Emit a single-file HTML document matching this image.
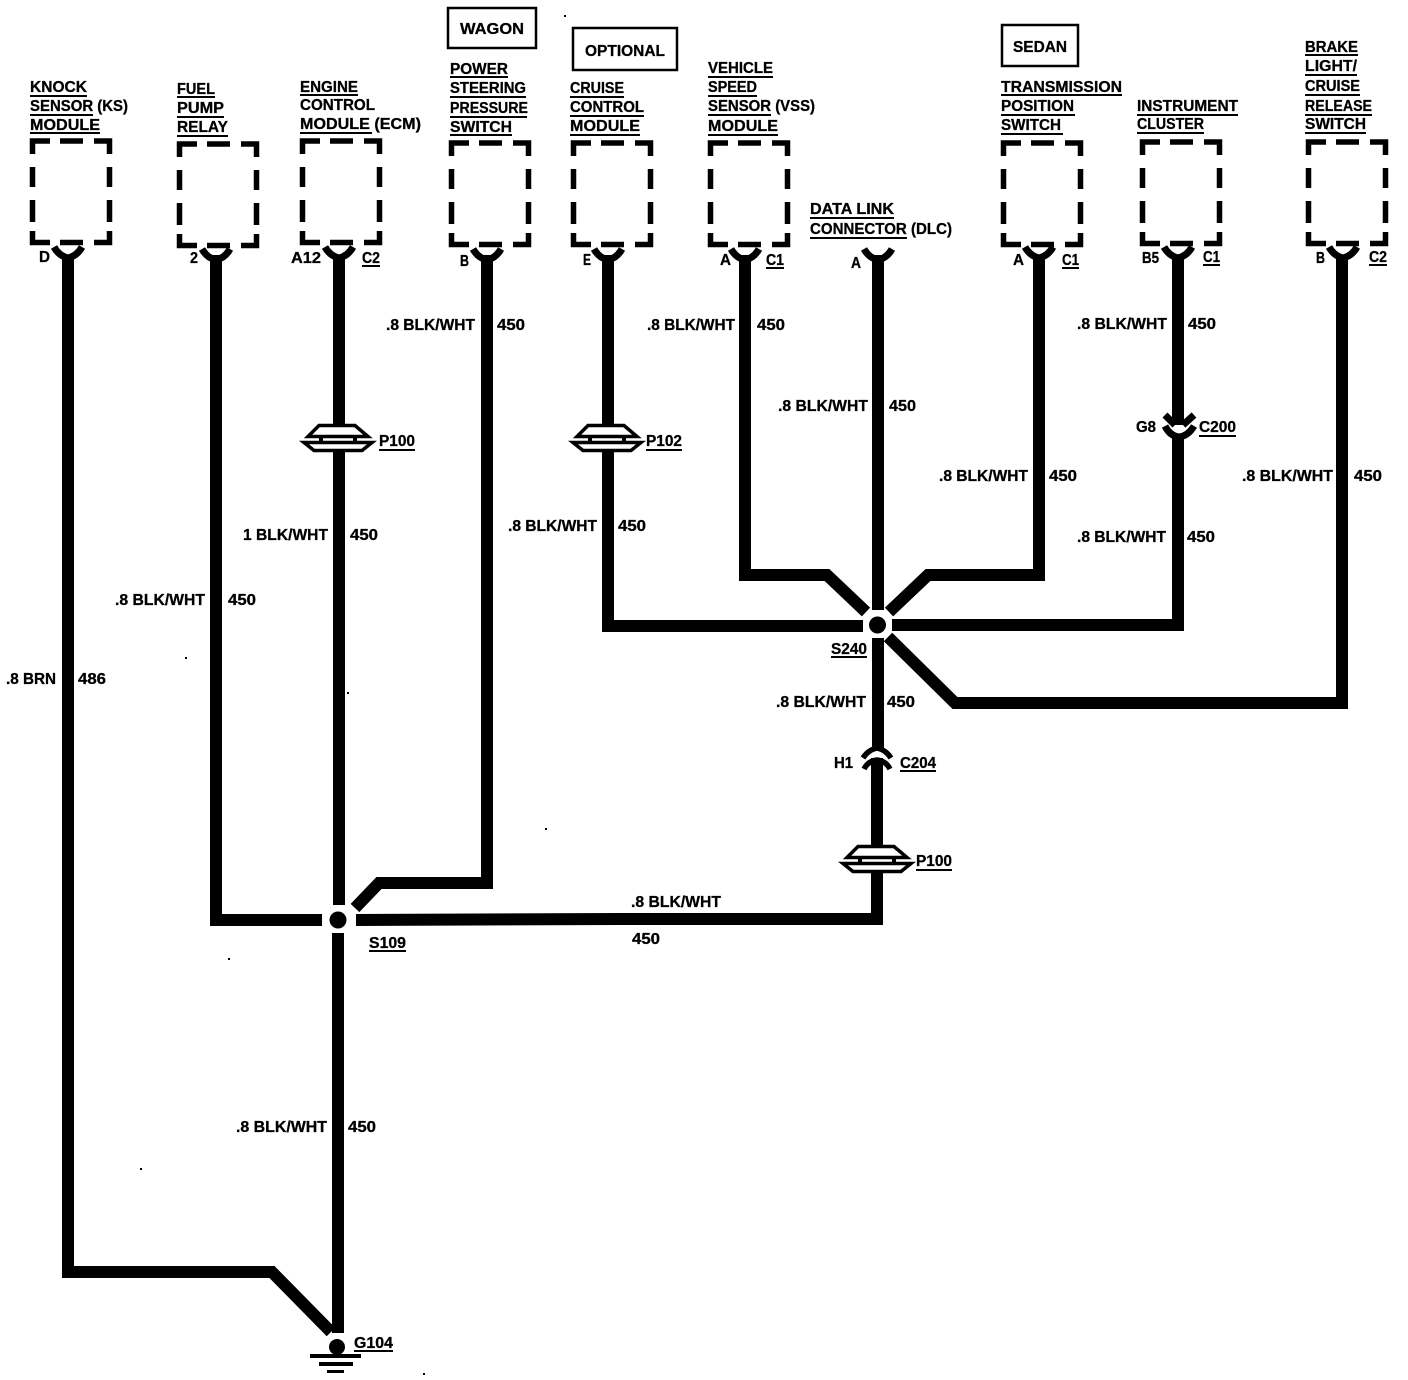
<!DOCTYPE html>
<html><head><meta charset="utf-8"><title>Wiring diagram</title>
<style>
html,body{margin:0;padding:0;background:#fff;width:1408px;height:1380px;overflow:hidden}
svg{display:block}
text{font-family:"Liberation Sans",sans-serif;font-weight:bold;font-size:16px;fill:#000;stroke:#000;stroke-width:.3px}
.w{fill:none;stroke:#000;stroke-width:12;stroke-linejoin:miter;stroke-linecap:butt}
.y{fill:none;stroke:#000;stroke-width:7}
.b{fill:none;stroke:#000;stroke-width:5.5}
.u{fill:none;stroke:#000;stroke-width:2}
.p{fill:#fff;stroke:#000;stroke-width:3.5}
</style></head><body>
<svg xmlns="http://www.w3.org/2000/svg" width="1408" height="1380" viewBox="0 0 1408 1380">
<defs>
<g id="box"><path class="b" d="M2.5,15V2H20M30,2H53M64,2H79.5V15M2.5,28V48M2.5,61V83M79.5,28V48M79.5,61V83M2.5,92V103.5H20M30,103.5H53M64,103.5H79.5V92"/></g>
<path id="yc" class="y" d="M-14,-3Q-9,6 0,8Q9,6 14,-3"/>
<g id="pl"><rect x="-8" y="11" width="16" height="8" fill="#fff"/><path d="M-19,13h4v5h-4zM15,13h4v5h-4z"/><path class="p" d="M-19,1.5H17L30,12.5H-30Z"/><path class="p" d="M-34,18.5H34L24,26.5H-24Z"/></g>
</defs>
<rect width="1408" height="1380" fill="#fff"/>

<!-- boxes -->
<use href="#box" x="30" y="139"/>
<use href="#box" x="177" y="142"/>
<use href="#box" x="300" y="139"/>
<use href="#box" x="449" y="141"/>
<use href="#box" x="571" y="141"/>
<use href="#box" x="708" y="141"/>
<use href="#box" x="1001" y="141"/>
<use href="#box" x="1140" y="140"/>
<use href="#box" x="1306" y="140"/>

<!-- tag boxes -->
<rect x="448" y="8" width="88" height="40" fill="none" stroke="#000" stroke-width="2.5"/>
<rect x="573" y="28" width="104" height="42" fill="none" stroke="#000" stroke-width="2.5"/>
<rect x="1002" y="25" width="76" height="41" fill="none" stroke="#000" stroke-width="2.5"/>

<!-- wires -->
<path class="w" d="M68,255V1272H272L331,1332"/>
<path class="w" d="M339,255V905"/>
<path class="w" d="M338,933V1333"/>
<path class="w" d="M216,255V920H322"/>
<path class="w" d="M487,255V883H379L355,908"/>
<path class="w" d="M356,920L620,919H877V872"/>
<path class="w" d="M608,255V626H863"/>
<path class="w" d="M745,255V575H827L866,612"/>
<path class="w" d="M1039,255V575H928L889,612"/>
<path class="w" d="M1178,255V625H892"/>
<path class="w" d="M1342,255V703H955L888,637"/>
<path class="w" d="M878,255V610"/>
<path class="w" d="M878,638V748"/>
<path class="w" d="M877,757V850"/>
<rect x="1170" y="425" width="18" height="9" fill="#fff"/>

<!-- Y connectors -->
<use href="#yc" x="68" y="250"/>
<use href="#yc" x="216" y="252"/>
<use href="#yc" x="339" y="250"/>
<use href="#yc" x="487" y="252"/>
<use href="#yc" x="608" y="252"/>
<use href="#yc" x="745" y="252"/>
<use href="#yc" x="878" y="252"/>
<use href="#yc" x="1039" y="250"/>
<use href="#yc" x="1178" y="250"/>
<use href="#yc" x="1343" y="250"/>

<!-- C200 -->
<path class="y" d="M1165,415L1175,425M1194,415L1183,425"/>
<path class="y" d="M1165,426Q1170,436 1179,437Q1188,436 1194,426"/>
<!-- C204 -->
<rect x="860" y="751" width="34" height="7" fill="#fff"/>
<path class="y" style="stroke-width:5.5" d="M863,758Q868,750 877,748Q886,750 891,758"/>
<path class="y" style="stroke-width:5.5" d="M864,769Q868,761 877,760Q886,761 890,769"/>

<!-- pass-throughs -->
<use href="#pl" x="338" y="424"/>
<use href="#pl" x="607" y="424"/>
<use href="#pl" x="877" y="845"/>

<!-- splices -->
<circle cx="877.5" cy="625" r="8.5"/>
<circle cx="338" cy="920" r="8.5"/>
<!-- ground -->
<circle cx="337" cy="1347" r="8"/>
<rect x="310" y="1354" width="51" height="4"/>
<rect x="319" y="1362" width="34" height="4"/>
<rect x="327" y="1370" width="17" height="3"/>

<!-- underlines -->
<path class="u" d="M30,96H87M30,115H93M30,133H100
M177,97H215M177,117H224M177,136H228
M300,95H358M300,133H372
M450,77H508M450,97H526M450,117H527M450,135H512
M570,97H624M570,116H644M570,135H640
M708,77H773M708,96H757M708,115H771M708,135H778
M810,218H894M810,238H907
M1001,95H1122M1001,115H1075M1001,134H1063
M1137,115H1238M1137,133H1204
M1305,55H1358M1305,75H1357M1305,95H1360M1305,115H1372M1305,133H1366
M362,266H380M766,268H784M1062,268H1079M1203,265H1220M1369,265H1387
M379,450H415M646,450H682M1199,436H1236M831,657H867M900,771H936M916,870H952M369,951H406M354,1351H393"/>

<!-- module labels -->
<text x="30" y="92" textLength="57" lengthAdjust="spacingAndGlyphs">KNOCK</text>
<text x="30" y="111" textLength="98" lengthAdjust="spacingAndGlyphs">SENSOR (KS)</text>
<text x="30" y="130" textLength="70" lengthAdjust="spacingAndGlyphs">MODULE</text>
<text x="177" y="94" textLength="38" lengthAdjust="spacingAndGlyphs">FUEL</text>
<text x="177" y="113" textLength="47" lengthAdjust="spacingAndGlyphs">PUMP</text>
<text x="177" y="132" textLength="51" lengthAdjust="spacingAndGlyphs">RELAY</text>
<text x="300" y="92" textLength="58" lengthAdjust="spacingAndGlyphs">ENGINE</text>
<text x="300" y="110" textLength="75" lengthAdjust="spacingAndGlyphs">CONTROL</text>
<text x="300" y="129" textLength="121" lengthAdjust="spacingAndGlyphs">MODULE (ECM)</text>
<text x="450" y="74" textLength="58" lengthAdjust="spacingAndGlyphs">POWER</text>
<text x="450" y="93" textLength="76" lengthAdjust="spacingAndGlyphs">STEERING</text>
<text x="450" y="113" textLength="78" lengthAdjust="spacingAndGlyphs">PRESSURE</text>
<text x="450" y="132" textLength="62" lengthAdjust="spacingAndGlyphs">SWITCH</text>
<text x="460" y="34" textLength="64" lengthAdjust="spacingAndGlyphs">WAGON</text>
<text x="585" y="56" textLength="80" lengthAdjust="spacingAndGlyphs">OPTIONAL</text>
<text x="570" y="93" textLength="54" lengthAdjust="spacingAndGlyphs">CRUISE</text>
<text x="570" y="112" textLength="74" lengthAdjust="spacingAndGlyphs">CONTROL</text>
<text x="570" y="131" textLength="70" lengthAdjust="spacingAndGlyphs">MODULE</text>
<text x="708" y="73" textLength="65" lengthAdjust="spacingAndGlyphs">VEHICLE</text>
<text x="708" y="92" textLength="49" lengthAdjust="spacingAndGlyphs">SPEED</text>
<text x="708" y="111" textLength="107" lengthAdjust="spacingAndGlyphs">SENSOR (VSS)</text>
<text x="708" y="131" textLength="70" lengthAdjust="spacingAndGlyphs">MODULE</text>
<text x="810" y="214" textLength="84" lengthAdjust="spacingAndGlyphs">DATA LINK</text>
<text x="810" y="234" textLength="142" lengthAdjust="spacingAndGlyphs">CONNECTOR (DLC)</text>
<text x="1013" y="52" textLength="54" lengthAdjust="spacingAndGlyphs">SEDAN</text>
<text x="1001" y="92" textLength="121" lengthAdjust="spacingAndGlyphs">TRANSMISSION</text>
<text x="1001" y="111" textLength="73" lengthAdjust="spacingAndGlyphs">POSITION</text>
<text x="1001" y="130" textLength="60" lengthAdjust="spacingAndGlyphs">SWITCH</text>
<text x="1137" y="111" textLength="101" lengthAdjust="spacingAndGlyphs">INSTRUMENT</text>
<text x="1137" y="129" textLength="67" lengthAdjust="spacingAndGlyphs">CLUSTER</text>
<text x="1305" y="52" textLength="53" lengthAdjust="spacingAndGlyphs">BRAKE</text>
<text x="1305" y="71" textLength="52" lengthAdjust="spacingAndGlyphs">LIGHT/</text>
<text x="1305" y="91" textLength="55" lengthAdjust="spacingAndGlyphs">CRUISE</text>
<text x="1305" y="111" textLength="67" lengthAdjust="spacingAndGlyphs">RELEASE</text>
<text x="1305" y="129" textLength="61" lengthAdjust="spacingAndGlyphs">SWITCH</text>

<!-- pin labels -->
<text x="39" y="262" textLength="11" lengthAdjust="spacingAndGlyphs">D</text>
<text x="190" y="263" textLength="8" lengthAdjust="spacingAndGlyphs">2</text>
<text x="291" y="263" textLength="30" lengthAdjust="spacingAndGlyphs">A12</text>
<text x="362" y="263" textLength="18" lengthAdjust="spacingAndGlyphs">C2</text>
<text x="460" y="266" textLength="9" lengthAdjust="spacingAndGlyphs">B</text>
<text x="583" y="265" textLength="8" lengthAdjust="spacingAndGlyphs">E</text>
<text x="720" y="265" textLength="11" lengthAdjust="spacingAndGlyphs">A</text>
<text x="766" y="265" textLength="18" lengthAdjust="spacingAndGlyphs">C1</text>
<text x="851" y="268" textLength="10" lengthAdjust="spacingAndGlyphs">A</text>
<text x="1013" y="265" textLength="11" lengthAdjust="spacingAndGlyphs">A</text>
<text x="1062" y="265" textLength="17" lengthAdjust="spacingAndGlyphs">C1</text>
<text x="1142" y="263" textLength="17" lengthAdjust="spacingAndGlyphs">B5</text>
<text x="1203" y="262" textLength="17" lengthAdjust="spacingAndGlyphs">C1</text>
<text x="1316" y="263" textLength="9" lengthAdjust="spacingAndGlyphs">B</text>
<text x="1369" y="262" textLength="18" lengthAdjust="spacingAndGlyphs">C2</text>

<!-- wire labels -->
<text x="386" y="330" textLength="89" lengthAdjust="spacingAndGlyphs">.8 BLK/WHT</text><text x="497" y="330" textLength="28" lengthAdjust="spacingAndGlyphs">450</text>
<text x="647" y="330" textLength="88" lengthAdjust="spacingAndGlyphs">.8 BLK/WHT</text><text x="757" y="330" textLength="28" lengthAdjust="spacingAndGlyphs">450</text>
<text x="1077" y="329" textLength="90" lengthAdjust="spacingAndGlyphs">.8 BLK/WHT</text><text x="1188" y="329" textLength="28" lengthAdjust="spacingAndGlyphs">450</text>
<text x="778" y="411" textLength="90" lengthAdjust="spacingAndGlyphs">.8 BLK/WHT</text><text x="889" y="411" textLength="27" lengthAdjust="spacingAndGlyphs">450</text>
<text x="939" y="481" textLength="89" lengthAdjust="spacingAndGlyphs">.8 BLK/WHT</text><text x="1049" y="481" textLength="28" lengthAdjust="spacingAndGlyphs">450</text>
<text x="1242" y="481" textLength="91" lengthAdjust="spacingAndGlyphs">.8 BLK/WHT</text><text x="1354" y="481" textLength="28" lengthAdjust="spacingAndGlyphs">450</text>
<text x="508" y="531" textLength="89" lengthAdjust="spacingAndGlyphs">.8 BLK/WHT</text><text x="618" y="531" textLength="28" lengthAdjust="spacingAndGlyphs">450</text>
<text x="243" y="540" textLength="85" lengthAdjust="spacingAndGlyphs">1 BLK/WHT</text><text x="350" y="540" textLength="28" lengthAdjust="spacingAndGlyphs">450</text>
<text x="115" y="605" textLength="90" lengthAdjust="spacingAndGlyphs">.8 BLK/WHT</text><text x="228" y="605" textLength="28" lengthAdjust="spacingAndGlyphs">450</text>
<text x="6" y="684" textLength="50" lengthAdjust="spacingAndGlyphs">.8 BRN</text><text x="78" y="684" textLength="28" lengthAdjust="spacingAndGlyphs">486</text>
<text x="1077" y="542" textLength="89" lengthAdjust="spacingAndGlyphs">.8 BLK/WHT</text><text x="1187" y="542" textLength="28" lengthAdjust="spacingAndGlyphs">450</text>
<text x="776" y="707" textLength="90" lengthAdjust="spacingAndGlyphs">.8 BLK/WHT</text><text x="887" y="707" textLength="28" lengthAdjust="spacingAndGlyphs">450</text>
<text x="631" y="907" textLength="90" lengthAdjust="spacingAndGlyphs">.8 BLK/WHT</text><text x="632" y="944" textLength="28" lengthAdjust="spacingAndGlyphs">450</text>
<text x="236" y="1132" textLength="91" lengthAdjust="spacingAndGlyphs">.8 BLK/WHT</text><text x="348" y="1132" textLength="28" lengthAdjust="spacingAndGlyphs">450</text>

<!-- connector labels -->
<text x="379" y="446" textLength="36" lengthAdjust="spacingAndGlyphs">P100</text>
<text x="646" y="446" textLength="36" lengthAdjust="spacingAndGlyphs">P102</text>
<text x="1136" y="432" textLength="20" lengthAdjust="spacingAndGlyphs">G8</text>
<text x="1199" y="432" textLength="37" lengthAdjust="spacingAndGlyphs">C200</text>
<text x="831" y="654" textLength="36" lengthAdjust="spacingAndGlyphs">S240</text>
<text x="834" y="768" textLength="19" lengthAdjust="spacingAndGlyphs">H1</text>
<text x="900" y="768" textLength="36" lengthAdjust="spacingAndGlyphs">C204</text>
<text x="916" y="866" textLength="36" lengthAdjust="spacingAndGlyphs">P100</text>
<text x="369" y="948" textLength="37" lengthAdjust="spacingAndGlyphs">S109</text>
<text x="354" y="1348" textLength="39" lengthAdjust="spacingAndGlyphs">G104</text>

<!-- specks -->
<path d="M185,657h2v2h-2zM347,692h2v2h-2zM545,828h2v2h-2zM228,958h2v2h-2zM140,1168h2v2h-2zM423,1373h2v2h-2zM564,15h2v2h-2z"/>
</svg>
</body></html>
